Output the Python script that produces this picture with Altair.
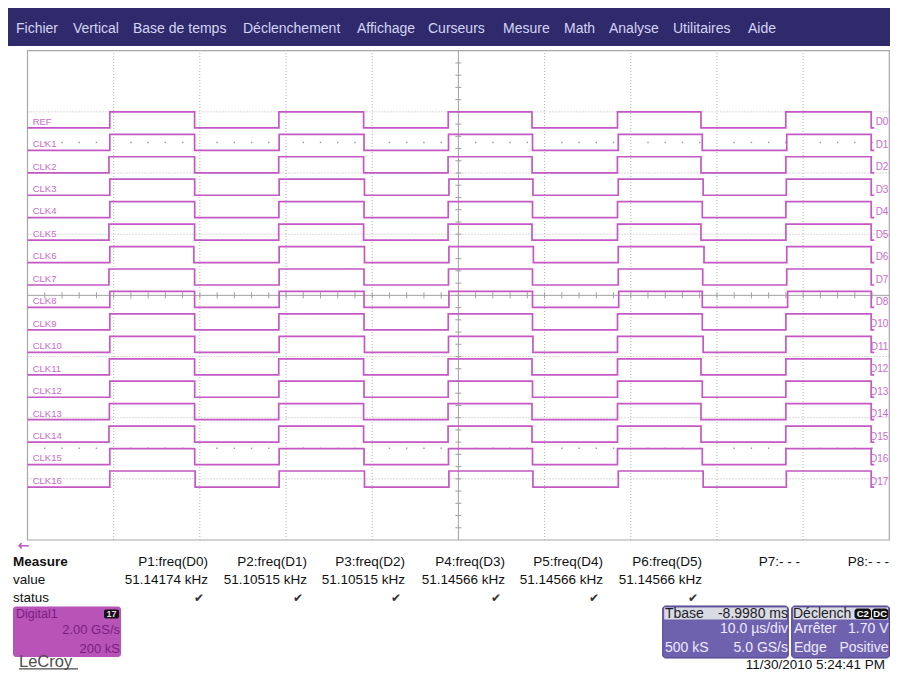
import altair as alt
import pandas as pd

W, H = 882, 664
FONT = "Liberation Sans"

# ---------------- data ----------------
menu_items = ["Fichier", "Vertical", "Base de temps", "Déclenchement", "Affichage",
              "Curseurs", "Mesure", "Math", "Analyse", "Utilitaires", "Aide"]
menu_x = [8, 65, 125, 235, 349, 420, 495, 556, 601, 665, 740]

left_names = ["REF"] + [f"CLK{i}" for i in range(1, 17)]
right_names = ["D0", "D1", "D2", "D3", "D4", "D5", "D6", "D7", "D8",
               "D10", "D11", "D12", "D13", "D14", "D15", "D16", "D17"]

# edge times (µs): rise, fall, rise, fall, ... for every channel
edges = [
    [-40.45, -30.61, -20.83, -11.00, -1.18, 8.54, 18.46, 28.15, 37.99],
    [-40.45, -30.61, -20.80, -10.95, -1.15, 8.60, 18.55, 28.30, 38.10],
    [-40.55, -30.61, -20.85, -11.00, -1.20, 8.55, 18.45, 28.15, 38.00],
    [-40.45, -30.60, -20.80, -10.90, -1.10, 8.65, 18.55, 28.40, 38.05],
    [-40.45, -30.60, -20.83, -10.95, -1.18, 8.60, 18.46, 28.30, 38.00],
    [-40.55, -30.61, -20.85, -11.00, -1.20, 8.54, 18.46, 28.15, 38.00],
    [-40.45, -30.70, -20.80, -10.90, -1.10, 8.70, 18.55, 28.50, 38.10],
    [-40.55, -30.61, -20.80, -10.95, -1.15, 8.60, 18.55, 28.35, 38.10],
    [-40.45, -30.61, -20.80, -10.95, -1.10, 8.60, 18.60, 28.30, 38.20],
    [-40.45, -30.60, -20.83, -10.95, -1.18, 8.60, 18.46, 28.30, 38.00],
    [-40.45, -30.60, -20.80, -10.90, -1.15, 8.65, 18.46, 28.40, 38.00],
    [-40.50, -30.61, -20.85, -11.00, -1.20, 8.54, 18.46, 28.15, 38.00],
    [-40.45, -30.60, -20.83, -10.95, -1.18, 8.60, 18.46, 28.30, 38.00],
    [-40.50, -30.61, -20.85, -11.00, -1.20, 8.54, 18.46, 28.15, 38.00],
    [-40.55, -30.61, -20.85, -11.00, -1.20, 8.54, 18.46, 28.15, 37.99],
    [-40.45, -30.60, -20.80, -10.95, -1.15, 8.60, 18.46, 28.30, 38.00],
    [-40.45, -30.55, -20.80, -10.90, -1.10, 8.65, 18.55, 28.40, 38.05],
]
trace_end = 47.9
tail_end = 48.25

meas_headers = ["P1:freq(D0)", "P2:freq(D1)", "P3:freq(D2)", "P4:freq(D3)",
                "P5:freq(D4)", "P6:freq(D5)", "P7:- - -", "P8:- - -"]
meas_values = ["51.14174 kHz", "51.10515 kHz", "51.10515 kHz", "51.14566 kHz",
               "51.14566 kHz", "51.14566 kHz", "", ""]
meas_status = ["✔", "✔", "✔", "✔", "✔", "✔", "", ""]
meas_right = [200, 299, 397, 497, 595, 694, 792, 881]

# ---------------- layout constants (pixels on the canvas) ----------------
X_RANGE = [19.5, 881.3]
Y_RANGE = [532.0, 42.7]
TRACE = "#c458c4"
LABEL = "#c96cc9"

xs = alt.Scale(domain=[-50, 50], range=X_RANGE, nice=False, zero=False)
ys = alt.Scale(domain=[-4, 4], range=Y_RANGE, nice=False, zero=False)


def X(f):
    return alt.X(f, type="quantitative", scale=xs, axis=None)


def Y(f):
    return alt.Y(f, type="quantitative", scale=ys, axis=None)


def PX(f):
    return alt.X(f, type="quantitative", scale=None, axis=None)


def PY(f):
    return alt.Y(f, type="quantitative", scale=None, axis=None)


def text_layer(rows, size, color, align="left", weight="normal", font=FONT, baseline="alphabetic"):
    df = pd.DataFrame(rows, columns=["x", "y", "s"])
    return alt.Chart(df).mark_text(align=align, baseline=baseline, fontSize=size,
                                   color=color, fontWeight=weight, font=font).encode(
        x=PX("x"), y=PY("y"), text="s:N")


def rect_layer(rows, **kw):
    df = pd.DataFrame(rows, columns=["x", "x2", "y", "y2"])
    return alt.Chart(df).mark_rect(**kw).encode(x=PX("x"), x2="x2:Q", y=PY("y"), y2="y2:Q")


layers = []

# ---------------- menu bar ----------------
layers.append(rect_layer([[0, 882, 0, 38]], color="#2f2a6c"))
layers.append(text_layer([[x, 25, s] for x, s in zip(menu_x, menu_items)], 14, "#d4d4f4"))

# ---------------- grid ----------------
frame = pd.DataFrame({"t0": [-50], "t1": [50], "v0": [-4], "v1": [4]})
layers.append(alt.Chart(frame).mark_rect(fillOpacity=0, stroke="#a8a8a8", strokeWidth=1.2).encode(
    x=X("t0"), x2="t1:Q", y=Y("v0"), y2="v1:Q"))

vgrid = pd.DataFrame({"t": [-40, -30, -20, -10, 10, 20, 30, 40], "v0": -4, "v1": 4})
layers.append(alt.Chart(vgrid).mark_rule(color="#b4b4b4", strokeDash=[1, 2], strokeWidth=1).encode(
    x=X("t"), y=Y("v0"), y2="v1:Q"))
hgrid = pd.DataFrame({"v": [-3, -2, -1, 1, 2, 3], "t0": -50, "t1": 50})
layers.append(alt.Chart(hgrid).mark_rule(color="#b4b4b4", strokeDash=[1, 2], strokeWidth=1).encode(
    y=Y("v"), x=X("t0"), x2="t1:Q"))

center = pd.DataFrame({"t0": [0, -50], "t1": [0, 50], "v0": [-4, 0], "v1": [4, 0]})
layers.append(alt.Chart(center).mark_rule(color="#a0a0a0", strokeWidth=1).encode(
    x=X("t0"), x2="t1:Q", y=Y("v0"), y2="v1:Q"))

tick_t = [t for t in range(-48, 50, 2)]
htick = pd.DataFrame({"t": tick_t, "v0": -0.05, "v1": 0.05})
layers.append(alt.Chart(htick).mark_rule(color="#a0a0a0", strokeWidth=1).encode(
    x=X("t"), y=Y("v0"), y2="v1:Q"))
tick_v = [round(-3.8 + 0.2 * i, 2) for i in range(39)]
vtick = pd.DataFrame({"v": tick_v, "t0": -0.35, "t1": 0.35})
layers.append(alt.Chart(vtick).mark_rule(color="#a0a0a0", strokeWidth=1).encode(
    y=Y("v"), x=X("t0"), x2="t1:Q"))

dots = pd.DataFrame([{"t": t, "v": v} for v in (2.5, -2.5) for t in tick_t if t % 10 != 0])
layers.append(alt.Chart(dots).mark_square(size=2, color="#9a9a9a", opacity=1).encode(
    x=X("t"), y=Y("v")))

# ---------------- traces ----------------
rows = []
lab_l, lab_r = [], []
for i, (ln, rn, e) in enumerate(zip(left_names, right_names, edges)):
    hi = 3.0 - 0.367 * i
    lo = hi - 0.262
    pts = [(-50, lo)]
    level = lo
    for k, t in enumerate(e):
        new = hi if k % 2 == 0 else lo
        pts.append((t, level))
        pts.append((t, new))
        level = new
    pts.append((trace_end, level))
    pts.append((trace_end, lo))
    pts.append((tail_end, lo))
    for o, (t, v) in enumerate(pts):
        rows.append({"ch": ln, "o": o, "t": t, "v": v})
    lab_l.append({"t": -49.4, "v": lo + 0.052, "s": ln})
    lab_r.append({"t": 49.9, "v": lo + 0.04, "s": rn})

tr = pd.DataFrame(rows)
layers.append(alt.Chart(tr).mark_line(color=TRACE, strokeWidth=1.7, interpolate="linear").encode(
    x=X("t"), y=Y("v"), detail="ch:N", order="o:Q"))
layers.append(alt.Chart(pd.DataFrame(lab_l)).mark_text(
    align="left", baseline="alphabetic", fontSize=9.5, color=LABEL, font=FONT).encode(
    x=X("t"), y=Y("v"), text="s:N"))
layers.append(alt.Chart(pd.DataFrame(lab_r)).mark_text(
    align="right", baseline="alphabetic", fontSize=10, color=LABEL, font=FONT).encode(
    x=X("t"), y=Y("v"), text="s:N"))

# ---------------- measure table ----------------
layers.append(text_layer([[15.5, 537.5, "←"]], 14, "#c458c4", align="center", baseline="middle",
                         weight="bold", font="DejaVu Sans"))
layers.append(text_layer([[5, 558, "Measure"]], 13.5, "#111111", weight="bold"))
layers.append(text_layer([[5, 575.5, "value"], [5, 593.5, "status"]], 13.5, "#111111"))
layers.append(text_layer([[r, 558, s] for r, s in zip(meas_right, meas_headers)], 13.5, "#111111", align="right"))
layers.append(text_layer([[r, 575.5, s] for r, s in zip(meas_right, meas_values) if s], 13.5, "#111111", align="right"))
layers.append(text_layer([[r - 4, 594, s] for r, s in zip(meas_right, meas_status) if s], 12, "#333333",
                         align="right", font="DejaVu Sans"))

# ---------------- Digital1 box ----------------
layers.append(rect_layer([[5, 113, 598.5, 649]], color="#b853b8", cornerRadius=3))
layers.append(text_layer([[8, 610, "Digital1"]], 12.5, "#7a1f80"))
layers.append(rect_layer([[96, 111, 601.5, 610.5]], color="#111111", cornerRadius=2))
layers.append(text_layer([[103.5, 609.3, "17"]], 9, "#f0d0f0", align="center", weight="bold"))
layers.append(text_layer([[112, 626, "2.00 GS/s"], [112, 645, "200 kS"]], 13, "#7a1f80", align="right"))

# ---------------- LeCroy ----------------
layers.append(text_layer([[11, 658.5, "LeCroy"]], 16.5, "#4d4d4d"))
layers.append(rect_layer([[11, 70, 660.3, 661.6]], color="#4d4d4d"))

# ---------------- Timebase / trigger boxes ----------------
BOX = "#6e61ad"
layers.append(rect_layer([[654.7, 780.3, 598, 650], [783.7, 881.5, 598, 650]],
                         color=BOX, stroke="#4a3f88", strokeWidth=1, cornerRadius=3))
layers.append(rect_layer([[656.2, 778.8, 599.5, 611.5], [785.2, 880, 599.5, 611.5]], color="#dadae2"))
layers.append(text_layer([[657, 609.5, "Tbase"], [785, 609.5, "Déclench"]], 14, "#1c1c2a"))
layers.append(text_layer([[780, 609.5, "-8.9980 ms"]], 14, "#1c1c2a", align="right"))
layers.append(rect_layer([[846.5, 863, 600.5, 611], [864, 880.3, 600.5, 611]], color="#111111", cornerRadius=3))
layers.append(text_layer([[854.8, 609.2, "C2"], [872.2, 609.2, "DC"]], 9.5, "#ffffff", align="center", weight="bold"))
layers.append(text_layer([[657, 643.5, "500 kS"], [786, 625, "Arrêter"], [786, 643.5, "Edge"]], 14, "#eeeaff"))
layers.append(text_layer([[780, 625, "10.0 µs/div"], [780, 643.5, "5.0 GS/s"],
                          [880.5, 625, "1.70 V"], [880.5, 643.5, "Positive"]], 14, "#eeeaff", align="right"))

# ---------------- date ----------------
layers.append(text_layer([[877, 661, "11/30/2010 5:24:41 PM"]], 13.5, "#111111", align="right"))

chart = alt.layer(*layers).resolve_scale(x="independent", y="independent").properties(
    width=W, height=H, padding=0, autosize=alt.AutoSizeParams(type="none"),
    background="#ffffff"
).configure_view(stroke=None)

chart.save("out.html", embed_options={"renderer": "svg", "actions": False})
